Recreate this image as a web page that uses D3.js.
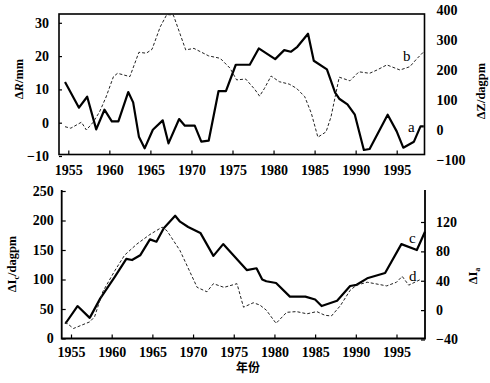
<!DOCTYPE html>
<html lang="zh">
<head>
    <meta charset="UTF-8">
    <title>ΔR ΔZ ΔI</title>
    <script src="https://cdn.jsdelivr.net/npm/d3@7"></script>
    <style>
        body { margin: 0; background: #fff; }
        text { font-family: "Liberation Serif", "DejaVu Serif", serif; fill: #000; }
        .tick text { font-weight: bold; font-size: 14px; }
    </style>
</head>
<body>
<script>
    // top panel: a = ΔR (mm, left axis), b = ΔZ (dagpm, right axis)
    const yearsA = [1954.6, 1956.3, 1957.3, 1958.4, 1959.4, 1960.3, 1961.1, 1962.3, 1962.9, 1963.6, 1964.3, 1965.3,
        1966.5, 1967.2, 1968.5, 1969.2, 1970.4, 1971.2, 1972.1, 1973.3, 1974.2, 1975.4, 1977.1, 1978.2, 1980.2,
        1981.3, 1982.1, 1982.9, 1984.2, 1984.9, 1986.5, 1987.5, 1988.0, 1989.0, 1989.9, 1991.0, 1991.7, 1993.9,
        1995.0, 1995.8, 1997.1, 1997.9, 1998.3]
    const deltaR = [12.2, 4.5, 7.8, -2, 3.9, 0.4, 0.4, 9.2, 6.1, -4.2, -7.7, -2.1,
        0.7, -6.2, 1.1, -0.9, -0.9, -5.7, -5.4, 9.5, 9.5, 17.4, 17.4, 22.3, 19.1,
        21.8, 21.3, 22.8, 26.7, 18.6, 16, 9, 7.2, 5.5, 2.4, -8.2, -7.9, 2.4,
        -2.6, -7.5, -5.7, -1.1, -1.1]
    const yearsB = [1954.6, 1955.3, 1956.6, 1957.2, 1958.0, 1958.8, 1959.6, 1960.5, 1961.0, 1962.5, 1963.6, 1964.5,
        1965.2, 1966.2, 1967.0, 1967.8, 1969.3, 1970.3, 1972.1, 1973.5, 1974.7, 1975.5, 1976.6, 1977.7, 1978.3,
        1978.9, 1979.7, 1980.7, 1981.9, 1982.8, 1983.8, 1984.6, 1985.4, 1986.4, 1987.0, 1988.0, 1989.3, 1990.4,
        1991.7, 1992.6, 1993.8, 1995.4, 1996.6, 1997.4, 1998.3]
    const deltaZ = [11, 6, 26, 0, 25, 60, 110, 178, 189, 178, 259, 256,
        269, 344, 385, 383, 267, 272, 247, 239, 206, 167, 170, 136, 113,
        139, 180, 161, 153, 139, 111, 56, -24, -6, 44, 176, 164, 194,
        189, 200, 217, 200, 211, 236, 261]

    // bottom panel: c = ΔIc (dagpm, left axis), d = ΔIa (right axis)
    const yearsC = [1954.3, 1955.8, 1957.3, 1958.6, 1960.4, 1961.8, 1962.5, 1963.5, 1964.7, 1965.5, 1966.4, 1967.8,
        1968.4, 1969.4, 1970.9, 1972.5, 1973.7, 1976.6, 1977.8, 1978.5, 1979.0, 1980.2, 1981.9, 1983.8, 1985.0,
        1985.8, 1987.7, 1989.3, 1990.1, 1991.4, 1993.6, 1995.6, 1997.5, 1998.5]
    const deltaIc = [25, 55, 35, 68, 105, 135, 133, 141, 168, 164, 187, 208,
        198, 189, 179, 140, 160, 116, 119, 100, 97, 94, 71, 71, 66,
        55, 64, 89, 91, 102, 111, 160, 150, 181]
    const yearsD = [1954.3, 1955.3, 1957.3, 1957.9, 1958.9, 1960.4, 1961.6, 1963.1, 1964.7, 1966.2, 1966.8, 1968.4,
        1970.5, 1971.7, 1972.5, 1973.8, 1975.4, 1976.2, 1977.4, 1978.2, 1979.0, 1980.2, 1981.5, 1982.7, 1984.0,
        1985.2, 1986.2, 1987.0, 1988.1, 1989.3, 1990.1, 1991.4, 1993.8, 1995.0, 1995.7, 1996.5, 1998.0]
    const deltaIa = [-16, -25, -16, -9, 25, 54, 75, 90, 103, 113, 108, 81,
        31, 25, 36, 31, 36, 4, 10, 7, 0, -18, -3, -2, -5,
        -2, -7, -8, 6, 27, 34, 38, 33, 38, 46, 34, 42]

    const yearTicks = [1955, 1960, 1965, 1970, 1975, 1980, 1985, 1990, 1995]
    const ticksR = [-10, 0, 10, 20, 30]
    const ticksZ = [-100, 0, 100, 200, 300, 400]
    const ticksIc = [0, 50, 100, 150, 200, 250]
    const ticksIa = [-40, 0, 40, 80, 120]

    const [width, height] = [490, 383]
    const svg = d3.select('body').append('svg')
        .attr('width', width)
        .attr('height', height)

    const solid = (g, line, xs, ys) => g.append('path')
        .datum(xs.map((x, i) => [x, ys[i]]))
        .attr('d', line)
        .attr('fill', 'none')
        .attr('stroke', '#000')
        .attr('stroke-width', 2.2)
        .attr('stroke-linejoin', 'round')
    const dashed = (g, line, xs, ys) => g.append('path')
        .datum(xs.map((x, i) => [x, ys[i]]))
        .attr('d', line)
        .attr('fill', 'none')
        .attr('stroke', '#222')
        .attr('stroke-width', 1)
        .attr('stroke-dasharray', '3,2')

    // ---------- top panel ----------
    const topBox = { left: 59, right: 424.5, top: 14, bottom: 154.5 }
    const xTop = d3.scaleLinear().domain([1955, 1995]).range([68.3, 396.7])
    const yR = d3.scaleLinear().domain([-10, 30]).range([156, 22.8])
    const yZ = d3.scaleLinear().domain([-100, 400]).range([160, 10])

    const axesTop = svg.append('g')
    axesTop.append('g').attr('transform', `translate(0, ${topBox.bottom})`)
        .call(d3.axisBottom(xTop).tickValues(yearTicks).tickFormat(d3.format('d'))
            .tickSizeInner(-4).tickSizeOuter(0).tickPadding(11))
    axesTop.append('g').attr('transform', `translate(${topBox.left}, 0)`)
        .call(d3.axisLeft(yR).tickValues(ticksR).tickSizeInner(-3).tickSizeOuter(0).tickPadding(10))
    axesTop.append('g').attr('transform', `translate(${topBox.right}, 0)`)
        .call(d3.axisRight(yZ).tickValues(ticksZ).tickSize(0).tickPadding(12))
    axesTop.selectAll('.domain').remove()
    axesTop.append('rect')
        .attr('x', topBox.left).attr('y', topBox.top)
        .attr('width', topBox.right - topBox.left).attr('height', topBox.bottom - topBox.top)
        .attr('fill', 'none').attr('stroke', '#000').attr('stroke-width', 1.6)

    const gTop = svg.append('g')
    solid(gTop, d3.line().x(d => xTop(d[0])).y(d => yR(d[1])), yearsA, deltaR)
    dashed(gTop, d3.line().x(d => xTop(d[0])).y(d => yZ(d[1])), yearsB, deltaZ)

    // ---------- bottom panel ----------
    const botBox = { left: 61.7, right: 425, top: 190, bottom: 338.5 }
    const xBot = d3.scaleLinear().domain([1955, 1995]).range([71, 396.5])
    const yIc = d3.scaleLinear().domain([0, 250]).range([338.5, 191])
    const yIa = d3.scaleLinear().domain([-40, 120]).range([339.5, 222])

    const axesBot = svg.append('g')
    axesBot.append('g').attr('transform', `translate(0, ${botBox.bottom})`)
        .call(d3.axisBottom(xBot).tickValues(yearTicks).tickFormat(d3.format('d'))
            .tickSizeInner(-4).tickSizeOuter(0).tickPadding(9))
    axesBot.append('g').attr('transform', `translate(${botBox.left}, 0)`)
        .call(d3.axisLeft(yIc).tickValues(ticksIc).tickSizeInner(-4).tickSizeOuter(0).tickPadding(8))
    axesBot.append('g').attr('transform', `translate(${botBox.right}, 0)`)
        .call(d3.axisRight(yIa).tickValues(ticksIa).tickSizeInner(-4).tickSizeOuter(0).tickPadding(11))
    axesBot.selectAll('.domain').remove()
    axesBot.append('path')
        .attr('d', `M${botBox.left},${botBox.top}V${botBox.bottom}H${botBox.right}V${botBox.top}`)
        .attr('fill', 'none').attr('stroke', '#000').attr('stroke-width', 1.8)

    const gBot = svg.append('g')
    solid(gBot, d3.line().x(d => xBot(d[0])).y(d => yIc(d[1])), yearsC, deltaIc)
    dashed(gBot, d3.line().x(d => xBot(d[0])).y(d => yIa(d[1])), yearsD, deltaIa)

    svg.selectAll('.tick line').attr('stroke', '#000').attr('stroke-width', 1.2)

    // ---------- titles & curve letters ----------
    const vLabel = (x, y, parts) => {
        const t = svg.append('text')
            .attr('transform', `translate(${x}, ${y}) rotate(-90)`)
            .attr('text-anchor', 'middle')
            .attr('font-size', 12.5)
            .attr('font-weight', 'bold')
        parts.forEach(p => {
            const s = t.append('tspan').text(p.t)
            if (p.italic) s.attr('font-style', 'italic')
            if (p.sub) s.attr('font-size', 8).attr('dy', 3)
            if (p.back) s.attr('dy', -3)
        })
    }
    vLabel(23, 79, [{ t: 'Δ' }, { t: 'R', italic: true }, { t: '/mm' }])
    vLabel(485, 91, [{ t: 'ΔZ/dagpm' }])
    vLabel(16, 264, [{ t: 'ΔI' }, { t: 'c', sub: true }, { t: '/dagpm', back: true }])
    vLabel(477, 276, [{ t: 'ΔI' }, { t: 'a', sub: true }])

    svg.append('text').attr('x', 248).attr('y', 372)
        .attr('text-anchor', 'middle')
        .attr('font-size', 12).attr('font-weight', 'bold')
        .style('font-family', '"Noto Sans CJK SC", sans-serif')
        .text('年份')

    const letters = [
        { t: 'a', x: 408, y: 132 },
        { t: 'b', x: 403, y: 61 },
        { t: 'c', x: 409, y: 243 },
        { t: 'd', x: 409, y: 281 }
    ]
    svg.selectAll('text.curve').data(letters).join('text')
        .attr('class', 'curve')
        .attr('x', d => d.x).attr('y', d => d.y)
        .attr('font-size', 15)
        .text(d => d.t)
</script>
</body>
</html>
